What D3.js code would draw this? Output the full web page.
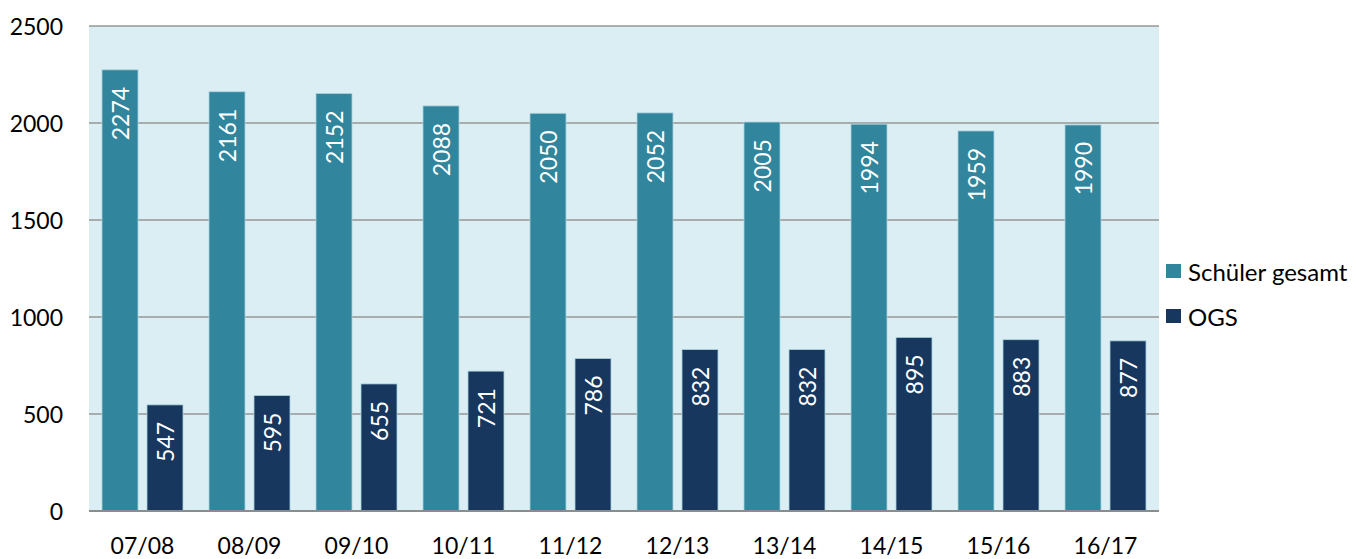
<!DOCTYPE html>
<html>
<head>
<meta charset="utf-8">
<script src="https://cdn.jsdelivr.net/npm/d3@7"></script>
<style>
  body { margin: 0; background: #fff; }
  text { font-family: Lato, "Open Sans", sans-serif; }
</style>
</head>
<body>
<div id="chart"></div>
<script>
var years = ["07/08", "08/09", "09/10", "10/11", "11/12", "12/13", "13/14", "14/15", "15/16", "16/17"];
var schueler = [2274, 2161, 2152, 2088, 2050, 2052, 2005, 1994, 1959, 1990];
var ogs = [547, 595, 655, 721, 786, 832, 832, 895, 883, 877];
var seriesNames = ["Schüler gesamt", "OGS"];
var seriesColors = ["#31859C", "#17375E"];
var yTicks = [0, 500, 1000, 1500, 2000, 2500];

var width = 1356, height = 559;
var plotLeft = 89, plotRight = 1159, plotTop = 26, plotBottom = 511;

var svg = d3.select("#chart").append("svg")
    .attr("width", width)
    .attr("height", height);

var x = d3.scaleBand().domain(years).range([plotLeft, plotRight]);
var x1 = d3.scaleBand().domain(seriesNames).range([13, 94]).paddingInner(0.2);
var y = d3.scaleLinear().domain([0, 2500]).range([plotBottom, plotTop]);

// plot background
svg.append("rect")
    .attr("x", plotLeft).attr("y", plotTop)
    .attr("width", plotRight - plotLeft).attr("height", plotBottom - plotTop)
    .attr("fill", "#DBEEF3");

// gridlines
svg.append("g").selectAll("line").data(yTicks).enter().append("line")
    .attr("x1", plotLeft).attr("x2", plotRight)
    .attr("y1", function (d) { return y(d); })
    .attr("y2", function (d) { return y(d); })
    .attr("stroke", "#969696")
    .attr("stroke-width", 1.5);

// y tick labels
svg.append("g").selectAll("text").data(yTicks).enter().append("text")
    .attr("x", 63)
    .attr("y", function (d) { return y(d); })
    .attr("text-anchor", "end")
    .attr("dominant-baseline", "central")
    .attr("font-size", 23)
    .attr("fill", "#000")
    .text(function (d) { return d; });

// x labels
svg.append("g").selectAll("text").data(years).enter().append("text")
    .attr("x", function (d) { return x(d) + x.bandwidth() / 2; })
    .attr("y", 545)
    .attr("text-anchor", "middle")
    .attr("dominant-baseline", "central")
    .attr("font-size", 23)
    .attr("fill", "#000")
    .text(function (d) { return d; });

var rows = [];
years.forEach(function (yr, i) {
    rows.push({ year: yr, series: seriesNames[0], value: schueler[i], color: seriesColors[0] });
    rows.push({ year: yr, series: seriesNames[1], value: ogs[i], color: seriesColors[1] });
});

var bars = svg.append("g");
bars.selectAll("rect").data(rows).enter().append("rect")
    .attr("x", function (d) { return x(d.year) + x1(d.series); })
    .attr("y", function (d) { return y(d.value); })
    .attr("width", x1.bandwidth())
    .attr("height", function (d) { return y(0) - y(d.value); })
    .attr("fill", function (d) { return d.color; })
    .attr("stroke", "#A9D2DE")
    .attr("stroke-width", 0.8);

// value labels
bars.selectAll("text").data(rows).enter().append("text")
    .attr("transform", function (d) {
        var cx = x(d.year) + x1(d.series) + x1.bandwidth() / 2;
        var cy = y(d.value) + 17;
        return "translate(" + cx + "," + cy + ") rotate(-90)";
    })
    .attr("text-anchor", "end")
    .attr("dominant-baseline", "central")
    .attr("font-size", 23)
    .attr("fill", "#fff")
    .text(function (d) { return d.value; });

// baseline
svg.append("line")
    .attr("x1", plotLeft).attr("x2", plotRight)
    .attr("y1", y(0)).attr("y2", y(0))
    .attr("stroke", "#8c8c8c").attr("stroke-width", 2);

// legend
var legend = svg.append("g").selectAll("g").data(seriesNames).enter().append("g")
    .attr("transform", function (d, i) { return "translate(1166," + (271 + i * 45) + ")"; });
legend.append("rect")
    .attr("x", 0).attr("y", -7)
    .attr("width", 15).attr("height", 14)
    .attr("fill", function (d, i) { return seriesColors[i]; });
legend.append("text")
    .attr("x", 22).attr("y", 0)
    .attr("dominant-baseline", "central")
    .attr("font-size", 24)
    .attr("fill", "#000")
    .text(function (d) { return d; });
</script>
</body>
</html>
